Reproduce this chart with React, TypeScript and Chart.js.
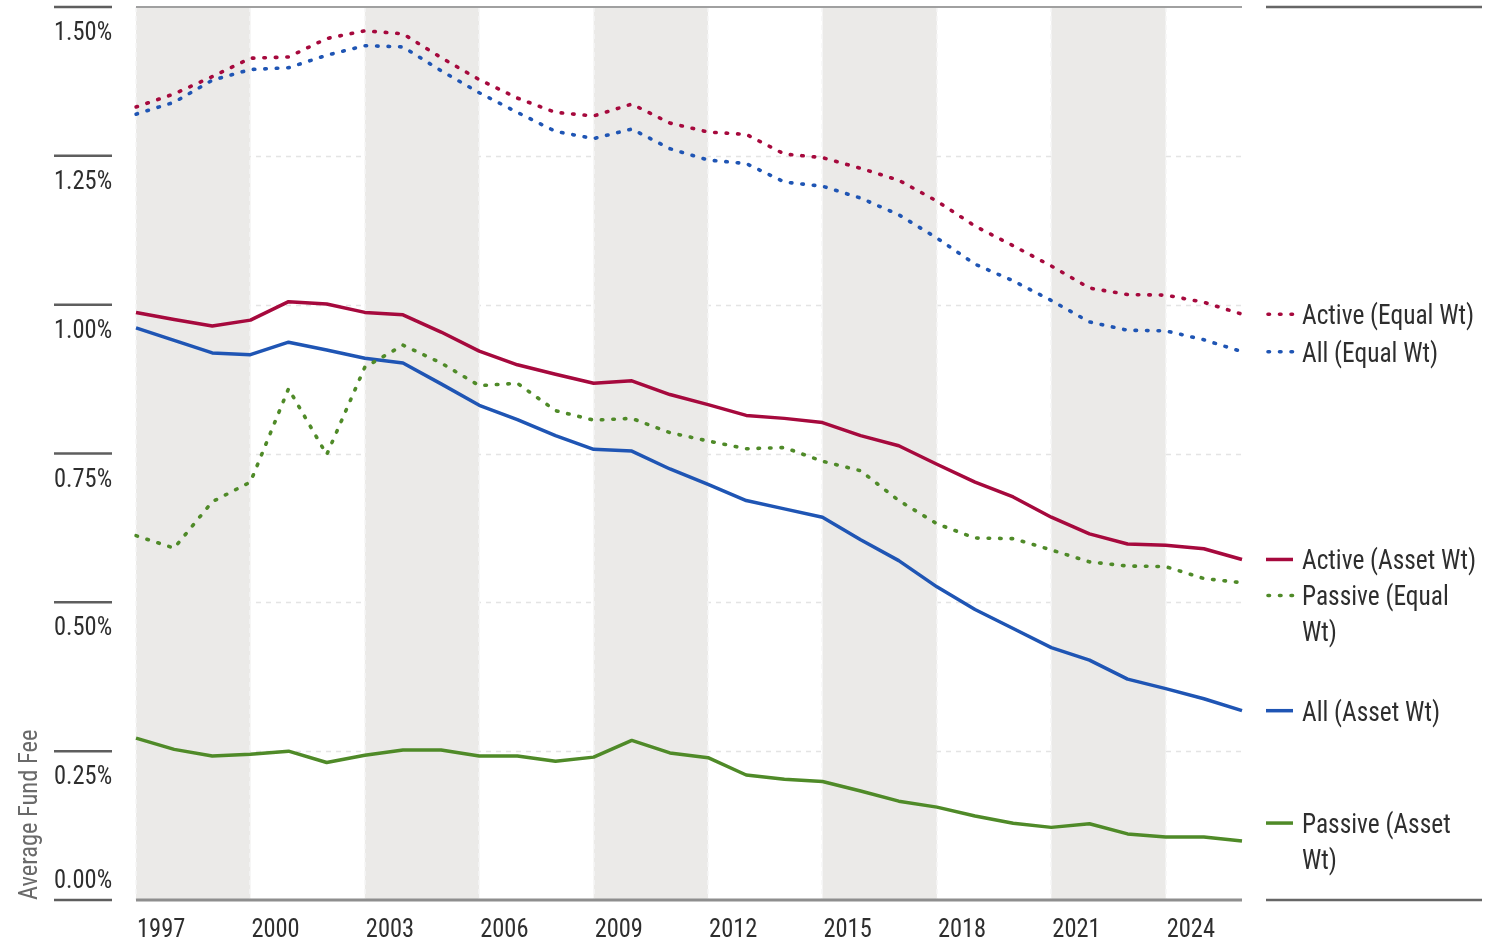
import React, { useEffect, useRef } from "react";
import { Chart, registerables } from "chart.js";

Chart.register(...registerables);

// ---------- data ----------
const years = [
  "1997", "1998", "1999", "2000", "2001", "2002", "2003", "2004", "2005", "2006",
  "2007", "2008", "2009", "2010", "2011", "2012", "2013", "2014", "2015", "2016",
  "2017", "2018", "2019", "2020", "2021", "2022", "2023", "2024", "2025", "2026",
];

const xLabelYears = ["1997", "2000", "2003", "2006", "2009", "2012", "2015", "2018", "2021", "2024"];
const shadedStartYears = ["1997", "2003", "2009", "2015", "2021"];
const shadedSpan = 3;

const yTicks = [0, 0.25, 0.5, 0.75, 1.0, 1.25, 1.5];
const yTickLabels = ["0.00%", "0.25%", "0.50%", "0.75%", "1.00%", "1.25%", "1.50%"];
const yTitle = "Average Fund Fee";

const activeEqual = [
  1.332, 1.354, 1.383, 1.414, 1.416, 1.447, 1.46, 1.455, 1.415, 1.378,
  1.347, 1.323, 1.317, 1.337, 1.305, 1.29, 1.286, 1.253, 1.247, 1.229,
  1.209, 1.174, 1.132, 1.099, 1.065, 1.028, 1.017, 1.016, 1.004, 0.984,
];
const allEqual = [
  1.32, 1.34, 1.377, 1.395, 1.398, 1.419, 1.435, 1.433, 1.393, 1.356,
  1.323, 1.291, 1.279, 1.295, 1.262, 1.243, 1.237, 1.206, 1.199, 1.179,
  1.151, 1.112, 1.068, 1.04, 1.007, 0.971, 0.957, 0.956, 0.941, 0.921,
];
const activeAsset = [
  0.987, 0.975, 0.964, 0.974, 1.005, 1.001, 0.987, 0.983, 0.954, 0.922,
  0.899, 0.883, 0.868, 0.872, 0.849, 0.832, 0.814, 0.809, 0.802, 0.78,
  0.763, 0.732, 0.702, 0.677, 0.643, 0.615, 0.598, 0.596, 0.59, 0.572,
];
const passiveEqual = [
  0.612, 0.591, 0.669, 0.702, 0.859, 0.748, 0.895, 0.932, 0.902, 0.864,
  0.868, 0.822, 0.806, 0.809, 0.785, 0.771, 0.758, 0.76, 0.737, 0.721,
  0.671, 0.632, 0.608, 0.607, 0.588, 0.568, 0.561, 0.56, 0.54, 0.533,
];
const allAsset = [
  0.961, 0.94, 0.919, 0.916, 0.937, 0.924, 0.91, 0.902, 0.867, 0.831,
  0.807, 0.78, 0.757, 0.754, 0.724, 0.698, 0.671, 0.657, 0.643, 0.605,
  0.57, 0.526, 0.488, 0.456, 0.424, 0.403, 0.371, 0.355, 0.338, 0.318,
];
const passiveAsset = [
  0.272, 0.253, 0.242, 0.245, 0.25, 0.231, 0.243, 0.252, 0.252, 0.242,
  0.242, 0.233, 0.24, 0.268, 0.247, 0.239, 0.21, 0.203, 0.199, 0.183,
  0.166, 0.156, 0.141, 0.129, 0.122, 0.128, 0.111, 0.106, 0.106, 0.099,
];

const seriesNames = [
  "Active (Equal Wt)",
  "All (Equal Wt)",
  "Active (Asset Wt)",
  "Passive (Equal\nWt)",
  "All (Asset Wt)",
  "Passive (Asset\nWt)",
];

// ---------- styles ----------
const RED = "#A6093D";
const BLUE = "#1F55B4";
const GREEN = "#4F8A28";
const BAND = "#EBEAE8";
const GRID = "#E4E4E4";
const TEXT = "#2E2E2E";
const FONT = '"Liberation Sans Narrow", "Arial Narrow", "Roboto Condensed", Roboto, sans-serif';
const TEXT_SX = 0.94;
const DOT_DASH = [1.5, 10];
const DOT_W = 3.6;

const seriesStyles = [
  { color: RED, dotted: true },
  { color: BLUE, dotted: true },
  { color: RED, dotted: false },
  { color: GREEN, dotted: true },
  { color: BLUE, dotted: false },
  { color: GREEN, dotted: false },
];
const seriesData = [activeEqual, allEqual, activeAsset, passiveEqual, allAsset, passiveAsset];

function drawText(ctx: CanvasRenderingContext2D, s: string, x: number, y: number) {
  ctx.save();
  ctx.translate(x, y);
  ctx.scale(TEXT_SX, 1);
  ctx.fillText(s, 0, 0);
  ctx.restore();
}

const decorPlugin = {
  id: "decor",
  beforeDatasetsDraw(chart: any) {
    const { ctx, chartArea: a } = chart;
    const x = chart.scales.x;
    const y = chart.scales.y;
    ctx.save();
    // horizontal dashed gridlines
    ctx.strokeStyle = GRID;
    ctx.lineWidth = 1.5;
    ctx.setLineDash([5, 5]);
    yTicks.forEach((v) => {
      if (v === yTicks[0] || v === yTicks[yTicks.length - 1]) return;
      const py = Math.round(y.getPixelForValue(v)) + 0.5;
      ctx.beginPath();
      ctx.moveTo(a.left, py);
      ctx.lineTo(a.right, py);
      ctx.stroke();
    });
    ctx.setLineDash([]);
    // shaded bands
    ctx.fillStyle = BAND;
    shadedStartYears.forEach((s) => {
      const i = years.indexOf(s);
      const x0 = x.getPixelForValue(i);
      const x1 = x.getPixelForValue(i + shadedSpan);
      ctx.fillRect(x0, a.top, x1 - x0, a.bottom - a.top);
    });
    // light dashed edges
    ctx.strokeStyle = "#F6F6F6";
    ctx.lineWidth = 1.5;
    ctx.setLineDash([5, 4]);
    xLabelYears.forEach((lab) => {
      const px = Math.round(x.getPixelForValue(years.indexOf(lab)));
      ctx.beginPath();
      ctx.moveTo(px, a.top);
      ctx.lineTo(px, a.bottom);
      ctx.stroke();
    });
    ctx.setLineDash([]);
    // top border and bottom axis
    ctx.strokeStyle = "#A0A0A0";
    ctx.lineWidth = 2;
    ctx.beginPath();
    ctx.moveTo(a.left, a.top);
    ctx.lineTo(a.right, a.top);
    ctx.stroke();
    ctx.strokeStyle = "#8E8E8E";
    ctx.lineWidth = 3;
    ctx.beginPath();
    ctx.moveTo(a.left, a.bottom);
    ctx.lineTo(a.right, a.bottom);
    ctx.stroke();
    ctx.restore();
  },
  afterDraw(chart: any) {
    const { ctx, chartArea: a } = chart;
    const x = chart.scales.x;
    const y = chart.scales.y;
    ctx.save();
    // y tick marks + labels
    const tickX0 = 54;
    const tickX1 = 112;
    yTicks.forEach((v, i) => {
      const py = y.getPixelForValue(v);
      ctx.strokeStyle = "#5E5E5E";
      ctx.lineWidth = 2.5;
      ctx.beginPath();
      ctx.moveTo(tickX0, py);
      ctx.lineTo(tickX1, py);
      ctx.stroke();
      ctx.fillStyle = TEXT;
      ctx.font = `26px ${FONT}`;
      ctx.textAlign = "left";
      ctx.textBaseline = "alphabetic";
      let base = py + 33;
      if (base > a.bottom) base = py - 12;
      drawText(ctx, yTickLabels[i], tickX0, base);
    });
    // y title
    ctx.save();
    ctx.translate(37, a.bottom);
    ctx.rotate(-Math.PI / 2);
    ctx.fillStyle = "#6A6A6A";
    ctx.font = `26px ${FONT}`;
    ctx.textAlign = "left";
    ctx.textBaseline = "alphabetic";
    drawText(ctx, yTitle, 0, 0);
    ctx.restore();
    // x labels
    ctx.fillStyle = TEXT;
    ctx.font = `26px ${FONT}`;
    ctx.textAlign = "left";
    ctx.textBaseline = "alphabetic";
    xLabelYears.forEach((lab) => {
      const px = x.getPixelForValue(years.indexOf(lab));
      drawText(ctx, lab, px + 1, a.bottom + 37);
    });
    // right panel rules
    const lx0 = a.right + 24;
    const lx1 = lx0 + 216;
    ctx.strokeStyle = "#666666";
    ctx.lineWidth = 2.5;
    [a.top, a.bottom].forEach((py) => {
      ctx.beginPath();
      ctx.moveTo(lx0, py);
      ctx.lineTo(lx1, py);
      ctx.stroke();
    });
    // end-of-line legend labels
    const lineH = 36;
    const items = seriesNames.map((name, i) => {
      const lines = name.split("\n");
      const d = seriesData[i];
      return { i, lines, want: y.getPixelForValue(d[d.length - 1]), h: lines.length * lineH };
    });
    items.sort((p, q) => p.want - q.want);
    let prevBottom = -Infinity;
    ctx.font = `27px ${FONT}`;
    items.forEach((it) => {
      let top = it.want - it.h / 2;
      if (top < prevBottom) top = prevBottom;
      prevBottom = top + it.h;
      const st = seriesStyles[it.i];
      const firstY = top + lineH / 2;
      ctx.strokeStyle = st.color;
      ctx.lineWidth = st.dotted ? DOT_W : 3.5;
      ctx.lineCap = st.dotted ? "round" : "butt";
      ctx.setLineDash(st.dotted ? DOT_DASH : []);
      ctx.beginPath();
      ctx.moveTo(lx0 + (st.dotted ? 2 : 0), firstY);
      ctx.lineTo(lx0 + 27, firstY);
      ctx.stroke();
      ctx.setLineDash([]);
      ctx.fillStyle = TEXT;
      it.lines.forEach((ln, k) => {
        drawText(ctx, ln, lx0 + 36, firstY + 10 + k * lineH);
      });
    });
    ctx.restore();
  },
};

export default function App() {
  const ref = useRef<HTMLCanvasElement | null>(null);
  useEffect(() => {
    document.body.style.margin = "0";
    document.body.style.overflow = "hidden";
    const canvas = ref.current;
    if (!canvas) return;
    const chart = new Chart(canvas, {
      type: "line",
      data: {
        labels: years,
        datasets: seriesNames.map((name, i) => ({
          label: name.replace("\n", " "),
          data: seriesData[i],
          borderColor: seriesStyles[i].color,
          backgroundColor: seriesStyles[i].color,
          borderWidth: seriesStyles[i].dotted ? DOT_W : 3.5,
          borderDash: seriesStyles[i].dotted ? DOT_DASH : [],
          borderCapStyle: seriesStyles[i].dotted ? "round" : "butt",
          borderJoinStyle: "round",
          pointRadius: 0,
          pointHoverRadius: 0,
          tension: 0,
          fill: false,
        })),
      },
      options: {
        animation: false,
        responsive: false,
        devicePixelRatio: 1,
        layout: { padding: { left: 136, right: 258, top: 7, bottom: 43 } },
        plugins: {
          legend: { display: false },
          tooltip: { enabled: false },
          title: { display: false },
        },
        scales: {
          x: {
            type: "category",
            offset: false,
            grid: { display: false, drawTicks: false },
            border: { display: false },
            ticks: { display: false },
            afterFit: (s: any) => {
              s.height = 0;
            },
          },
          y: {
            min: 0,
            max: 1.5,
            grid: { display: false, drawTicks: false },
            border: { display: false },
            ticks: { display: false, stepSize: 0.25 },
            afterFit: (s: any) => {
              s.width = 0;
            },
          },
        },
      },
      plugins: [decorPlugin],
    });
    return () => chart.destroy();
  }, []);
  return (
    <div style={{ position: "fixed", left: 0, top: 0, width: 1500, height: 943, background: "#fff" }}>
      <canvas ref={ref} width={1500} height={943} style={{ width: 1500, height: 943, display: "block" }} />
    </div>
  );
}
